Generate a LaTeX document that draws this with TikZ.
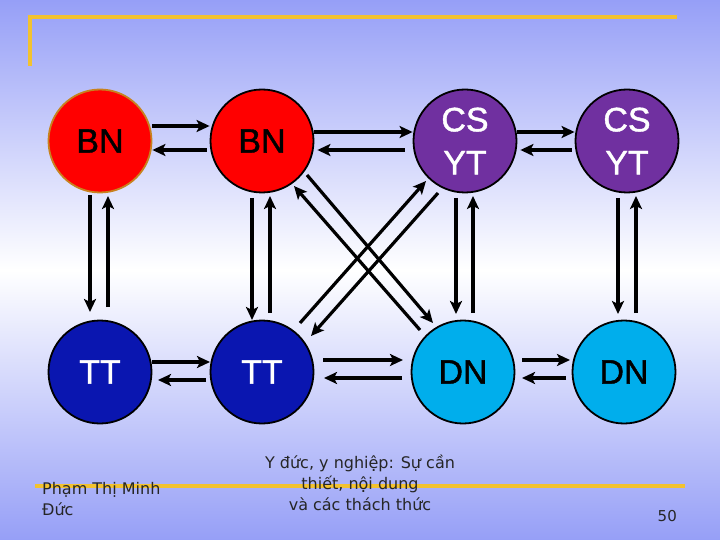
\documentclass[tikz,border=0pt]{standalone}
\usepackage{fontspec}
\setmainfont{Liberation Sans}
\newfontfamily\circfont[FakeBold=1.2]{Liberation Sans}
\newfontfamily\footfont{DejaVu Sans}
\usetikzlibrary{arrows.meta,calc}
\definecolor{bgc}{HTML}{969FF7}
\definecolor{gold}{HTML}{F2C230}
\definecolor{bnred}{HTML}{FF0000}
\definecolor{ttblue}{HTML}{0A16B0}
\definecolor{dncyan}{HTML}{00AEEC}
\definecolor{cspurple}{HTML}{7030A0}
\tikzset{
  circ/.style={circle, minimum size=103pt, inner sep=0pt, draw=black, line width=1.8pt, font=\circfont\fontsize{34}{43}\selectfont, align=center},
  arr/.style={line width=3.2pt, -{Stealth[length=13pt,width=12pt,inset=3pt]}},
  foot/.style={font=\footfont\fontsize{16}{21}\selectfont, text=black!85, align=center, inner sep=0pt}
}
\begin{document}
\begin{tikzpicture}[x=1pt,y=-1pt]
\useasboundingbox (0,0) rectangle (720,540);
\shade[top color=bgc, bottom color=bgc, middle color=white] (0,0) rectangle (720,540);
% gold lines
\draw[gold, line width=4pt] (30,66) -- (30,17) -- (677,17);
\draw[gold, line width=3.5pt] (35,486) -- (685,486);
% nodes
\node[circ, fill=bnred, draw={rgb,255:red,200;green,130;blue,30}] (bn1) at (100,141) {BN};
\node[circ, fill=bnred] (bn2) at (262,141) {BN};
\node[circ, fill=cspurple, text=white] (cs1) at (465,141) {CS\\YT};
\node[circ, fill=cspurple, text=white] (cs2) at (627,141) {CS\\YT};
\node[circ, fill=ttblue, text=white] (tt1) at (100,372) {TT};
\node[circ, fill=ttblue, text=white] (tt2) at (262,372) {TT};
\node[circ, fill=dncyan] (dn1) at (463,372) {DN};
\node[circ, fill=dncyan] (dn2) at (624,372) {DN};
% horizontal top
\draw[arr] (bn1.east |- 0,126) -- (bn2.west |- 0,126);
\draw[arr] ($(bn2.west |- 0,150)+(-3,0)$) -- (bn1.east |- 0,150);
\draw[arr] (bn2.east |- 0,132) -- (cs1.west |- 0,132);
\draw[arr] ($(cs1.west |- 0,150)+(-8,0)$) -- ($(bn2.east |- 0,150)+(3,0)$);
\draw[arr] (cs1.east |- 0,132) -- (cs2.west |- 0,132);
\draw[arr] ($(cs2.west |- 0,150)+(-3,0)$) -- ($(cs1.east |- 0,150)+(3,0)$);
% horizontal bottom
\draw[arr] (152,362) -- (210,362);
\draw[arr] (206,380) -- (158,380);
\draw[arr] (323,360) -- (403,360);
\draw[arr] (402,378) -- (324,378);
\draw[arr] (522,360) -- (570,360);
\draw[arr] (566,378) -- (522,378);
% vertical
\draw[arr] (90,195) -- (90,312);
\draw[arr] (108,307) -- (108,196);
\draw[arr] (252,198) -- (252,320);
\draw[arr] (270,313) -- (270,196);
\draw[arr] (456,198) -- (456,314);
\draw[arr] (473,313) -- (473,196);
\draw[arr] (618,198) -- (618,314);
\draw[arr] (636,313) -- (636,196);
% diagonals
\draw[arr] (307,175) -- (433,323);
\draw[arr] (420,330) -- (294,186);
\draw[arr] (300,323) -- (426,181);
\draw[arr] (438,193) -- (311,336);
% footer
\node[foot, anchor=north west, align=left] (author) at (42,482) {Phạm Thị Minh\\Đức};
\node[foot] (title) at (360,483) {Y đức, y nghiệp: Sự cần\\thiết, nội dung\\và các thách thức};
\node[foot, font=\footfont\fontsize{15}{21}\selectfont, anchor=base east] (page) at (677,521) {50};
\end{tikzpicture}
\end{document}
